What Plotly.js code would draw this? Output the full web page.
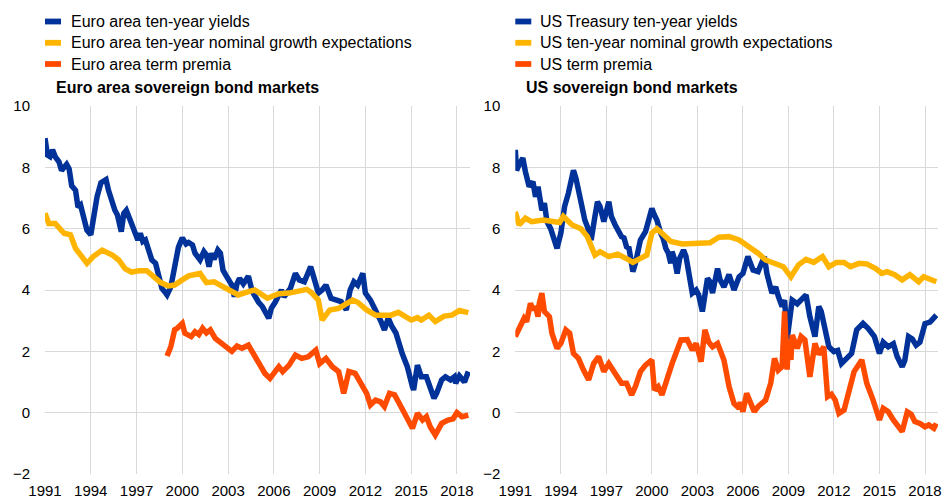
<!DOCTYPE html>
<html>
<head>
<meta charset="utf-8">
<script src="https://cdn.plot.ly/plotly-3.0.1.min.js"></script>
<style>html,body{margin:0;padding:0;background:#fff;}#chart{width:944px;height:499px;}</style>
</head>
<body>
<div id="chart"></div>
<script>
// ---------------- DATA ----------------
const xTickYears = ["1991","1994","1997","2000","2003","2006","2009","2012","2015","2018"];

const euYieldDates = ["1991-01","1991-03","1991-05","1991-07","1991-09","1991-12","1992-02","1992-04","1992-06","1992-08","1992-10","1993-01","1993-03","1993-05","1993-07","1993-10","1994-01","1994-03","1994-06","1994-09","1995-01","1995-03","1995-06","1995-08","1995-10","1996-01","1996-03","1996-05","1996-08","1996-12","1997-02","1997-04","1997-06","1997-08","1997-10","1998-01","1998-04","1998-06","1998-09","1998-12","1999-01","1999-04","1999-07","1999-10","2000-01","2000-04","2000-06","2000-09","2000-11","2001-03","2001-06","2001-08","2001-10","2001-12","2002-02","2002-05","2002-07","2002-09","2002-11","2003-02","2003-04","2003-06","2003-08","2003-10","2004-01","2004-05","2004-08","2005-01","2005-04","2005-09","2005-11","2006-02","2006-05","2006-07","2006-09","2007-02","2007-06","2007-09","2008-01","2008-06","2008-09","2008-12","2009-03","2009-06","2009-10","2010-03","2010-06","2010-10","2011-01","2011-04","2011-07","2011-11","2012-01","2012-05","2012-09","2013-01","2013-04","2013-07","2013-10","2014-01","2014-06","2014-10","2015-02","2015-03","2015-06","2015-09","2016-01","2016-04","2016-07","2016-09","2017-01","2017-04","2017-08","2017-11","2017-12","2018-03","2018-07","2018-10"];
const euYield = [8.95,8.4,8.35,8.57,8.35,8.18,7.9,8.0,8.1,7.95,7.4,7.25,6.7,6.77,6.45,5.95,5.8,6.3,7.05,7.5,7.6,7.25,6.77,6.6,6.45,5.9,6.5,6.6,6.28,5.85,5.63,5.85,5.58,5.63,5.36,4.98,4.87,4.6,4.05,3.9,3.84,4.1,4.76,5.4,5.7,5.5,5.55,5.47,5.2,4.98,5.25,5.14,4.76,5.2,5.0,5.3,5.2,4.65,4.5,4.27,4.16,3.78,4.2,4.38,4.2,4.45,3.95,3.6,3.46,3.08,3.4,3.6,3.9,4.0,3.78,4.05,4.54,4.33,4.27,4.76,4.33,3.9,4.0,4.16,3.73,3.67,3.62,3.35,4.0,4.27,4.16,4.54,3.9,3.67,3.35,3.0,2.7,3.08,2.8,2.6,1.93,1.5,0.85,0.74,1.55,1.17,1.17,0.85,0.47,0.63,1.07,1.17,1.07,1.17,0.96,1.2,1.0,1.34];

const euGrowthDates = ["1991-01","1991-04","1991-09","1992-04","1992-09","1993-01","1993-10","1994-03","1994-10","1995-06","1995-11","1996-04","1996-09","1997-03","1997-09","1998-02","1998-08","1999-02","1999-07","2000-01","2000-06","2001-03","2001-08","2002-02","2002-07","2003-01","2003-09","2004-05","2004-10","2005-08","2006-05","2007-01","2007-09","2008-03","2008-07","2008-12","2009-03","2009-09","2010-04","2011-03","2011-07","2012-02","2012-09","2013-09","2014-03","2015-01","2015-06","2015-09","2016-03","2016-08","2017-03","2017-09","2018-03","2018-10"];
const euGrowth = [6.5,6.17,6.17,5.85,5.8,5.36,4.87,5.09,5.3,5.14,4.98,4.7,4.58,4.63,4.63,4.43,4.24,4.13,4.16,4.33,4.46,4.54,4.24,4.27,4.16,4.05,3.84,3.95,4.0,3.73,3.88,3.9,3.95,4.02,3.9,3.67,3.02,3.35,3.4,3.67,3.6,3.35,3.18,3.18,3.27,3.02,3.1,3.02,3.18,2.97,3.15,3.18,3.33,3.26];

const euPremiaDates = ["1999-01","1999-04","1999-07","1999-09","2000-01","2000-03","2000-08","2000-11","2001-02","2001-05","2001-08","2001-11","2002-03","2002-07","2003-01","2003-04","2003-08","2003-12","2004-05","2004-10","2005-01","2005-06","2005-10","2006-05","2006-08","2007-01","2007-06","2007-11","2008-04","2008-10","2009-01","2009-06","2009-11","2010-04","2010-08","2010-12","2011-05","2011-11","2012-02","2012-05","2012-09","2013-01","2013-04","2013-08","2013-12","2014-05","2014-10","2015-02","2015-06","2015-10","2016-01","2016-04","2016-08","2017-01","2017-06","2017-10","2018-01","2018-05","2018-10"];
const euPremia = [1.85,2.15,2.7,2.75,2.91,2.59,2.48,2.64,2.55,2.75,2.6,2.7,2.42,2.3,2.1,2.0,2.17,2.1,2.2,1.83,1.6,1.28,1.12,1.5,1.34,1.55,1.88,1.77,1.82,2.04,1.6,1.77,1.5,1.34,0.63,1.34,1.28,0.85,0.63,0.25,0.41,0.35,0.2,0.63,0.58,0.2,-0.24,-0.51,-0.02,-0.24,-0.13,-0.46,-0.73,-0.35,-0.24,-0.2,0.0,-0.13,-0.08];

const usYieldDates = ["1991-01","1991-02","1991-04","1991-07","1991-09","1991-12","1992-03","1992-05","1992-07","1992-10","1992-12","1993-02","1993-05","1993-08","1993-10","1994-01","1994-04","1994-07","1994-08","1994-11","1995-01","1995-04","1995-06","1995-08","1995-10","1996-01","1996-04","1996-06","1996-08","1996-11","1997-03","1997-05","1997-08","1998-01","1998-03","1998-05","1998-07","1998-10","1998-12","1999-04","1999-08","1999-11","2000-01","2000-03","2000-05","2000-08","2000-10","2000-12","2001-02","2001-04","2001-05","2001-07","2001-09","2001-11","2002-02","2002-04","2002-06","2002-09","2002-12","2003-02","2003-05","2003-07","2003-09","2003-11","2004-01","2004-05","2004-07","2004-10","2005-02","2005-06","2005-10","2006-01","2006-05","2006-09","2007-01","2007-06","2007-08","2007-12","2008-03","2008-05","2008-08","2008-10","2008-12","2009-04","2009-08","2010-03","2010-06","2010-10","2011-01","2011-03","2011-06","2011-09","2012-01","2012-04","2012-07","2012-11","2013-03","2013-07","2013-12","2014-04","2014-09","2015-01","2015-04","2015-08","2015-12","2016-03","2016-07","2016-09","2016-12","2017-03","2017-06","2017-09","2018-01","2018-05","2018-10"];
const usYield = [8.57,7.9,8.08,8.3,7.86,7.37,7.53,7.04,7.37,6.6,6.83,6.23,6.0,5.63,5.36,5.85,6.72,7.15,7.3,7.9,7.64,7.04,6.5,6.28,6.07,5.63,6.4,6.88,6.72,6.23,6.88,6.4,6.12,5.74,5.7,5.41,5.36,4.6,4.87,5.63,5.9,6.34,6.66,6.45,6.28,5.85,5.68,5.36,5.2,4.87,5.25,5.0,4.54,5.03,5.3,5.1,4.65,3.9,4.0,3.84,3.3,3.9,4.38,4.27,3.9,4.7,4.33,4.1,4.5,4.0,4.43,4.54,5.09,4.65,4.6,5.09,4.54,3.9,4.1,3.8,3.46,3.67,2.4,3.67,3.55,3.84,3.13,2.48,3.46,3.3,2.6,2.15,1.99,2.03,1.6,1.77,1.93,2.7,2.91,2.75,2.48,1.93,2.3,2.15,2.25,1.83,1.5,1.7,2.48,2.4,2.2,2.3,2.9,2.95,3.18];

const usGrowthDates = ["1991-01","1991-04","1991-09","1992-02","1992-11","1993-07","1993-12","1994-03","1994-10","1995-05","1995-10","1996-04","1996-08","1997-03","1997-10","1998-06","1998-10","1999-04","1999-09","2000-01","2000-05","2000-09","2001-04","2002-01","2003-05","2003-11","2004-06","2005-02","2005-10","2006-06","2007-01","2007-07","2008-03","2008-09","2009-03","2009-09","2010-03","2010-09","2011-04","2011-09","2012-03","2012-09","2013-02","2013-09","2014-03","2014-10","2015-03","2015-07","2016-01","2016-07","2017-01","2017-08","2017-12","2018-05","2018-10"];
const usGrowth = [6.55,6.12,6.34,6.23,6.28,6.25,6.2,6.4,6.12,6.0,5.74,5.14,5.25,5.09,5.17,5.0,4.9,5.03,5.14,5.85,6.0,5.85,5.58,5.5,5.5,5.54,5.72,5.74,5.63,5.41,5.2,4.98,4.87,4.76,4.43,4.82,5.0,4.9,5.09,4.76,4.9,4.9,4.76,4.87,4.85,4.7,4.54,4.6,4.5,4.33,4.5,4.27,4.43,4.33,4.27];

const usPremiaDates = ["1991-01","1991-06","1991-08","1991-10","1992-01","1992-03","1992-05","1992-07","1992-08","1992-10","1992-12","1993-04","1993-06","1993-10","1994-01","1994-05","1994-08","1994-11","1995-03","1995-07","1995-11","1996-03","1996-07","1996-11","1997-03","1997-08","1998-01","1998-05","1998-09","1998-12","1999-04","1999-08","2000-01","2000-03","2000-06","2000-09","2001-01","2001-05","2001-08","2001-12","2002-05","2002-09","2002-12","2003-04","2003-07","2003-10","2004-01","2004-05","2004-10","2005-02","2005-06","2005-10","2005-11","2006-01","2006-04","2006-06","2006-10","2007-01","2007-07","2007-11","2008-02","2008-05","2008-08","2008-10","2008-12","2009-01","2009-03","2009-04","2009-08","2009-11","2010-02","2010-06","2010-10","2011-01","2011-05","2011-08","2011-11","2012-02","2012-05","2012-09","2012-12","2013-01","2013-05","2013-11","2014-03","2014-08","2015-01","2015-04","2015-08","2015-12","2016-05","2016-07","2016-11","2017-02","2017-05","2017-09","2018-01","2018-04","2018-08","2018-10"];
const usPremia = [2.48,2.97,3.08,2.97,3.57,3.35,3.46,3.13,3.57,3.9,3.3,3.13,2.59,2.1,2.26,2.7,2.59,1.93,1.77,1.39,1.07,1.6,1.83,1.34,1.6,1.28,0.96,0.96,0.58,0.85,1.34,1.55,1.72,0.74,0.85,0.58,1.17,1.6,1.93,2.37,2.38,2.04,2.26,1.66,2.7,2.3,2.15,2.26,1.72,0.85,0.3,0.14,0.35,0.03,0.63,0.4,0.03,0.2,0.41,0.96,1.77,1.39,1.5,3.3,1.4,2.37,1.72,2.53,2.1,2.48,2.37,1.17,2.26,1.9,2.15,0.52,0.6,0.41,-0.02,0.09,0.63,0.74,1.34,1.72,0.96,0.41,-0.24,0.14,0.03,-0.24,-0.57,-0.62,0.03,-0.05,-0.29,-0.35,-0.46,-0.4,-0.51,-0.35];

const leftNames = ["Euro area ten-year yields","Euro area ten-year nominal growth expectations","Euro area term premia"];
const rightNames = ["US Treasury ten-year yields","US ten-year nominal growth expectations","US term premia"];
const leftTitle = "Euro area sovereign bond markets";
const rightTitle = "US sovereign bond markets";
const colors = ["#003299","#FFB400","#FF4B00"];

// ---------------- LAYOUT ----------------
const W = 944, H = 499;
const M = {l:45, r:6, t:106, b:25};
const pw = W - M.l - M.r, ph = H - M.t - M.b;
const px2x = p => (p - M.l) / pw;
const py2y = p => (H - M.b - p) / ph;
const FONT = "Liberation Sans, Arial, sans-serif";

function mk(x, y, name, color, xa, ya) {
  return {x: x, y: y, name: name, type: "scatter", mode: "lines",
    line: {color: color, width: 5.5}, xaxis: xa, yaxis: ya, showlegend: false, hoverinfo: "skip"};
}

const data = [
  mk(euYieldDates, euYield, leftNames[0], colors[0], "x", "y"),
  mk(euGrowthDates, euGrowth, leftNames[1], colors[1], "x", "y"),
  mk(euPremiaDates, euPremia, leftNames[2], colors[2], "x", "y"),
  mk(usYieldDates, usYield, rightNames[0], colors[0], "x2", "y2"),
  mk(usGrowthDates, usGrowth, rightNames[1], colors[1], "x2", "y2"),
  mk(usPremiaDates, usPremia, rightNames[2], colors[2], "x2", "y2")
];

const xRange = ["1991-01-01", "2018-11-10"];
const tickVals = xTickYears.map(y => y + "-01-01");
function xax(domain, anchor) {
  return {domain: domain, anchor: anchor, type: "date", range: xRange,
    tickmode: "array", tickvals: tickVals, ticktext: xTickYears,
    showgrid: true, gridcolor: "#d9d9d9", gridwidth: 1, zeroline: false, showline: false,
    ticks: "", ticklabelstandoff: 6, tickfont: {family: FONT, size: 15, color: "#000"}, fixedrange: true};
}
function yax(anchor) {
  return {domain: [0, 1], anchor: anchor, range: [-2, 10], tickvals: [-2,0,2,4,6,8,10],
    showgrid: true, gridcolor: "#d9d9d9", gridwidth: 1, zeroline: false, showline: false,
    ticks: "", ticklabelstandoff: 14, tickfont: {family: FONT, size: 15, color: "#000"}, fixedrange: true};
}

const annotations = [];
const shapes = [];
const legendRows = [21.5, 42.8, 64.0];
function legendBlock(names, swX, txtX, title, titleX) {
  names.forEach((n, i) => {
    const cy = legendRows[i];
    shapes.push({type: "rect", xref: "paper", yref: "paper",
      x0: px2x(swX), x1: px2x(swX + 16), y0: py2y(cy - 2.9), y1: py2y(cy + 2.9),
      fillcolor: colors[i], line: {width: 0}});
    annotations.push({xref: "paper", yref: "paper", x: px2x(txtX), y: py2y(cy),
      xanchor: "left", yanchor: "middle", showarrow: false, text: n, borderpad: 0, borderwidth: 0,
      font: {family: FONT, size: 16, color: "#000"}});
  });
  annotations.push({xref: "paper", yref: "paper", x: px2x(titleX), y: py2y(88),
    xanchor: "left", yanchor: "middle", showarrow: false, text: "<b>" + title + "</b>", borderpad: 0, borderwidth: 0,
    font: {family: FONT, size: 16, color: "#000"}});
}
legendBlock(leftNames, 45, 71, leftTitle, 55.5);
legendBlock(rightNames, 515.3, 540, rightTitle, 525.5);

const layout = {
  width: W, height: H, margin: M,
  paper_bgcolor: "#fff", plot_bgcolor: "#fff",
  font: {family: FONT, size: 15, color: "#000"},
  showlegend: false,
  xaxis: xax([0, px2x(470)], "y"),
  yaxis: yax("x"),
  xaxis2: xax([px2x(515.3), 1], "y2"),
  yaxis2: yax("x2"),
  annotations: annotations,
  shapes: shapes
};

Plotly.newPlot("chart", data, layout, {staticPlot: true, displayModeBar: false});
</script>
</body>
</html>
